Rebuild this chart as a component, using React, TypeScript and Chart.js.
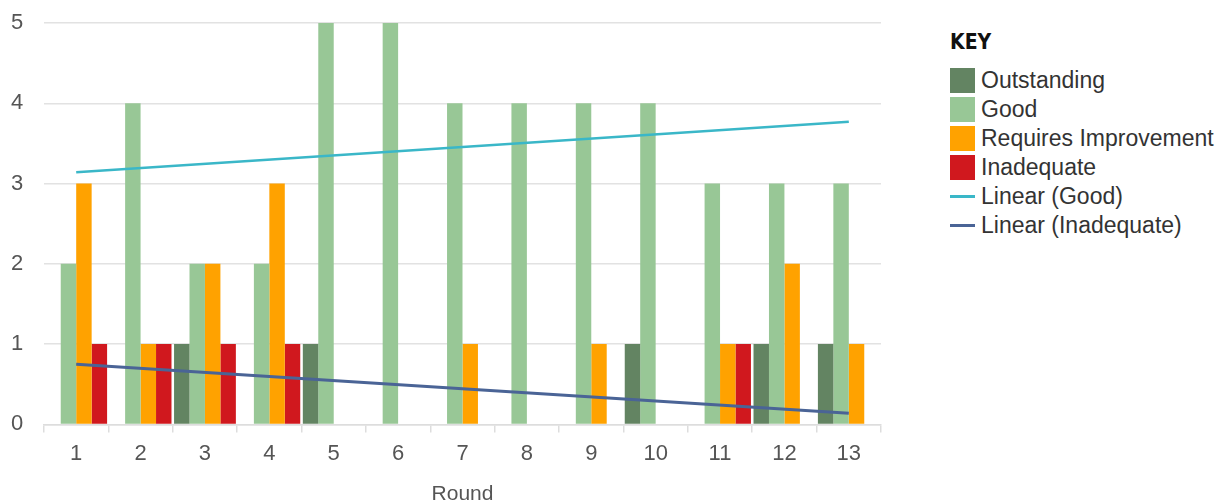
import React, { useEffect, useRef } from "react";
import { Chart, registerables } from "chart.js";

Chart.register(...registerables);

const rounds = ["1", "2", "3", "4", "5", "6", "7", "8", "9", "10", "11", "12", "13"];
const outstanding = [0, 0, 1, 0, 1, 0, 0, 0, 0, 1, 0, 1, 1];
const good = [2, 4, 2, 2, 5, 5, 4, 4, 4, 4, 3, 3, 3];
const requiresImprovement = [3, 1, 2, 3, 0, 0, 1, 0, 1, 0, 1, 2, 1];
const inadequate = [1, 1, 1, 1, 0, 0, 0, 0, 0, 0, 1, 0, 0];
const linearGood = [3.14, null, null, null, null, null, null, null, null, null, null, null, 3.77];
const linearInadequate = [0.75, null, null, null, null, null, null, null, null, null, null, null, 0.14];
const yTicks = [0, 1, 2, 3, 4, 5];

const COLORS = {
  outstanding: "#638462",
  good: "#98c796",
  ri: "#ffa200",
  inadequate: "#d0181e",
  linGood: "#3ab7c8",
  linInad: "#4a6496",
};

const legendItems = [
  { label: "Outstanding", color: COLORS.outstanding, type: "box" },
  { label: "Good", color: COLORS.good, type: "box" },
  { label: "Requires Improvement", color: COLORS.ri, type: "box" },
  { label: "Inadequate", color: COLORS.inadequate, type: "box" },
  { label: "Linear (Good)", color: COLORS.linGood, type: "line" },
  { label: "Linear (Inadequate)", color: COLORS.linInad, type: "line" },
];

const FONT = "'Liberation Sans', Arial, sans-serif";

export default function App() {
  const ref = useRef<HTMLCanvasElement | null>(null);

  useEffect(() => {
    document.body.style.margin = "0";
    if (!ref.current) return;
    const chart = new Chart(ref.current, {
      type: "bar",
      data: {
        labels: rounds,
        datasets: [
          { type: "line", label: "Linear (Good)", data: linearGood, borderColor: COLORS.linGood, borderWidth: 2.5, pointRadius: 0, spanGaps: true, order: 0 } as any,
          { type: "line", label: "Linear (Inadequate)", data: linearInadequate, borderColor: COLORS.linInad, borderWidth: 3, pointRadius: 0, spanGaps: true, order: 0 } as any,
          { label: "Outstanding", data: outstanding, backgroundColor: COLORS.outstanding, order: 1 },
          { label: "Good", data: good, backgroundColor: COLORS.good, order: 1 },
          { label: "Requires Improvement", data: requiresImprovement, backgroundColor: COLORS.ri, order: 1 },
          { label: "Inadequate", data: inadequate, backgroundColor: COLORS.inadequate, order: 1 },
        ],
      },
      options: {
        animation: false,
        responsive: false,
        maintainAspectRatio: false,
        layout: { padding: { top: 23, left: 11, right: 11, bottom: 4 } },
        datasets: { bar: { barPercentage: 1, categoryPercentage: 0.96 } },
        plugins: { legend: { display: false }, tooltip: { enabled: false } },
        scales: {
          x: {
            grid: { offset: true, drawOnChartArea: false, drawTicks: true, tickLength: 8, color: "#dddddd", lineWidth: 1.5 },
            border: { display: true, color: "#dddddd", width: 1.5 },
            ticks: { color: "#555555", font: { family: FONT, size: 22 }, padding: 8 },
            title: { display: true, text: "Round", color: "#555555", font: { family: FONT, size: 21 }, padding: { top: 7, bottom: 0 } },
          },
          y: {
            min: 0,
            max: 5,
            afterBuildTicks: (axis: any) => {
              axis.ticks = yTicks.map((v) => ({ value: v }));
            },
            afterFit: (axis: any) => {
              axis.width = 33;
            },
            grid: { color: "#e2e2e2", lineWidth: 1.5, drawTicks: false },
            border: { display: false },
            ticks: { color: "#555555", font: { family: FONT, size: 22 }, padding: 3, crossAlign: "far" },
          },
        },
      },
    });
    return () => chart.destroy();
  }, []);

  return (
    <div style={{ position: "relative", width: 1217, height: 500, overflow: "hidden", background: "#fff" }}>
      <canvas ref={ref} width={892} height={511} style={{ position: "absolute", left: 0, top: 0, width: 892, height: 511 }} />
      <div style={{ position: "absolute", left: 950, top: 30, fontFamily: FONT, color: "#333" }}>
        <div style={{ fontFamily: "'DejaVu Sans Condensed', 'DejaVu Sans', sans-serif", fontWeight: 900, fontSize: 21, color: "#111", marginBottom: 12, lineHeight: "24px" }}>KEY</div>
        {legendItems.map((it) => (
          <div key={it.label} style={{ display: "flex", alignItems: "center", height: 29 }}>
            {it.type === "box" ? (
              <div style={{ width: 25, height: 25, background: it.color, marginRight: 6 }} />
            ) : (
              <div style={{ width: 25, height: 25, marginRight: 6, display: "flex", alignItems: "center" }}>
                <div style={{ width: 25, height: 3, background: it.color }} />
              </div>
            )}
            <span style={{ fontSize: 23, whiteSpace: "nowrap" }}>{it.label}</span>
          </div>
        ))}
      </div>
    </div>
  );
}
